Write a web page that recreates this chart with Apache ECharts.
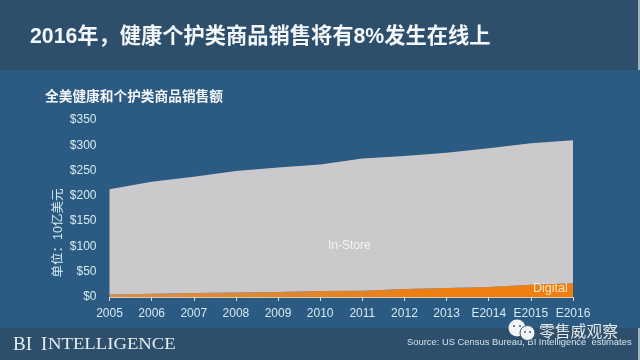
<!DOCTYPE html>
<html><head><meta charset="utf-8">
<style>html,body{margin:0;padding:0;background:#2b5a82}#c{width:640px;height:360px}</style>
<script src="https://cdn.jsdelivr.net/npm/echarts@6/dist/echarts.min.js"></script>
</head><body><div id="c"></div>
<script>
const categories = ['2005','2006','2007','2008','2009','2010','2011','2012','2013','E2014','E2015','E2016'];
const digital = [5,6.5,8,9,10,12,12.5,16,18,20,24,27];
const inStore = [208,221.5,230,240,246,250,261.5,263,267,274,280,283];
const yTicks = {min:0,max:350,interval:50};
const title = '2016年，健康个护类商品销售将有8%发生在线上';
const subtitle = '全美健康和个护类商品销售额';
const yName = '单位：10亿美元';
const source = 'Source: US Census Bureau, BI Intelligence  estimates';
const FF = '"Liberation Sans","Noto Sans CJK SC",sans-serif';
const light = '#d3eaf0';
const chart = echarts.init(document.getElementById('c'),null,{renderer:'canvas'});
chart.setOption({
  animation:false,
  backgroundColor:'#2b5a82',
  grid:{left:109.5,right:67,top:120,bottom:63,containLabel:false},
  xAxis:{type:'category',data:categories,boundaryGap:false,
    axisLine:{lineStyle:{color:'#d8c9a8',width:1}},
    axisTick:{show:true,length:4,lineStyle:{color:'#d3e0e6'}},
    axisLabel:{color:light,fontSize:12,fontFamily:FF,margin:11,interval:0,hideOverlap:false},
    splitLine:{show:false}},
  yAxis:{type:'value',min:yTicks.min,max:yTicks.max,interval:yTicks.interval,
    axisLine:{show:false},axisTick:{show:false},splitLine:{show:false},
    axisLabel:{color:light,fontSize:12,fontFamily:FF,margin:13,formatter:v=>'$'+v}},
  series:[
    {name:'Digital',type:'line',stack:'t',data:digital,symbol:'none',lineStyle:{width:0},
      areaStyle:{opacity:1,color:new echarts.graphic.LinearGradient(0,0,1,0,[
        {offset:0,color:'#d98f45'},{offset:0.45,color:'#e2842a'},{offset:0.7,color:'#ef7f10'},{offset:1,color:'#ef7f10'}])}},
    {name:'In-Store',type:'line',stack:'t',data:inStore,symbol:'none',lineStyle:{width:0},
      areaStyle:{color:'#cbc9cc',opacity:1}}
  ],
  graphic:[
    {type:'rect',z:-1,shape:{x:0,y:0,width:640,height:70},style:{fill:'#2d4f6c'}},
    {type:'rect',z:-1,shape:{x:0,y:328,width:640,height:32},style:{fill:'#2d4f6c'}},
    {type:'rect',z:-1,shape:{x:638,y:0,width:2,height:70},style:{fill:'#9fb4bf'}},
    {type:'rect',z:-1,shape:{x:638,y:328,width:2,height:32},style:{fill:'#9fb4bf'}},
    {type:'text',z:5,style:{x:30,y:37,text:title,fill:'#f4f8fa',font:'bold 21.25px '+FF,textVerticalAlign:'middle'}},
    {type:'text',z:5,style:{x:45,y:97,text:subtitle,fill:'#f2f6f8',font:'bold 13.7px '+FF,textVerticalAlign:'middle'}},
    {type:'text',z:5,x:58.5,y:233,rotation:Math.PI/2,style:{x:0,y:0,text:yName,fill:light,font:'12.5px '+FF,textAlign:'center',textVerticalAlign:'middle'}},
    {type:'text',z:5,style:{x:328,y:246,text:'In-Store',fill:'#f4f4f4',font:'12px '+FF,textVerticalAlign:'middle'}},
    {type:'text',z:5,style:{x:533,y:289,text:'Digital',fill:'#fbe6c8',font:'12.5px '+FF,textVerticalAlign:'middle'}},
    {type:'text',z:5,style:{x:13,y:345,text:'BI',fill:'#e6eef2',font:'19px "Liberation Serif",serif',textVerticalAlign:'middle'}},
    {type:'text',z:5,style:{x:41,y:345,text:'I',fill:'#e6eef2',font:'19px "Liberation Serif",serif',textVerticalAlign:'middle'}},
    {type:'text',z:5,x:48,y:345,scaleX:1.1,style:{x:0,y:0,text:'NTELLIGENCE',fill:'#e6eef2',font:'17px "Liberation Serif",serif',textVerticalAlign:'middle'}},
    {type:'text',z:5,style:{x:407,y:342.5,text:source,fill:'#d3e3ea',font:'9.4px '+FF,textVerticalAlign:'middle'}},
    {type:'circle',z:6,shape:{cx:517,cy:328,r:8.5},style:{fill:'#f2f4f5'}},
    {type:'circle',z:6,shape:{cx:527.5,cy:333,r:7.5},style:{fill:'#f2f4f5',stroke:'#33566f',lineWidth:1}},
    {type:'circle',z:7,shape:{cx:514,cy:326,r:1},style:{fill:'#33566f'}},
    {type:'circle',z:7,shape:{cx:520,cy:326,r:1},style:{fill:'#33566f'}},
    {type:'circle',z:7,shape:{cx:525,cy:332,r:.9},style:{fill:'#33566f'}},
    {type:'circle',z:7,shape:{cx:530,cy:332,r:.9},style:{fill:'#33566f'}},
    {type:'text',z:6,style:{x:539,y:331,text:'零售威观察',fill:'#e6e9ea',font:'15.8px "Noto Sans CJK SC",sans-serif',textVerticalAlign:'middle'}}
  ]
});
</script></body></html>
